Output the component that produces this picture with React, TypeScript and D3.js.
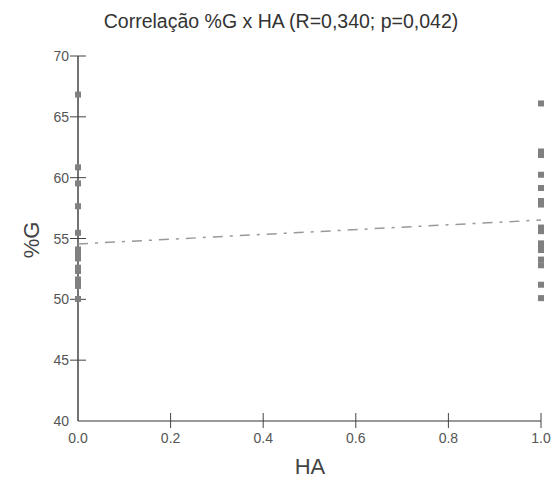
import React from "react";
import * as d3 from "d3";

const title = "Correlação %G x HA (R=0,340; p=0,042)";
const xLabel = "HA";
const yLabel = "%G";
const xTicks = [0, 0.2, 0.4, 0.6, 0.8, 1.0];
const yTicks = [40, 45, 50, 55, 60, 65, 70];
const groupZero = [66.83, 60.85, 59.53, 57.65, 55.47, 54.1, 53.8, 53.36, 52.6, 52.33, 51.63, 51.34, 51.1, 50.03];
const groupOne = [66.1, 62.15, 61.86, 60.24, 59.15, 58.08, 57.79, 55.9, 55.6, 54.6, 54.4, 54.05, 53.27, 52.8, 51.2, 50.1];
const trendX = [0, 1];
const trendY = [54.55, 56.52];

export default function App() {
  const W = 554, H = 484;
  const x = d3.scaleLinear().domain([0, 1]).range([78, 541]);
  const y = d3.scaleLinear().domain([40, 70]).range([421, 56]);
  const pts = [
    ...groupZero.map((v) => ({ x: 0, y: v })),
    ...groupOne.map((v) => ({ x: 1, y: v })),
  ];
  const line = d3.line<number>().x((_, i) => x(trendX[i])).y((d) => y(d));
  const font = "'Liberation Sans', Arial, sans-serif";
  const s = 6;
  return (
    <svg width={W} height={H} style={{ position: "absolute", left: 0, top: 0, background: "#fff" }} fontFamily={font}>
      <text x={281} y={28} textAnchor="middle" fontSize={19.5} fill="#333">{title}</text>
      {/* x axis */}
      <line x1={x(0)} x2={x(1)} y1={y(40)} y2={y(40)} stroke="#777" strokeWidth={1.5} />
      {xTicks.map((t) => (
        <g key={"x" + t}>
          {t > 0 && <line x1={x(t)} x2={x(t)} y1={y(40) - 8} y2={y(40) + 7} stroke="#444" strokeWidth={1} />}
          <text x={x(t)} y={443} textAnchor="middle" fontSize={14} fill="#555">{t.toFixed(1)}</text>
        </g>
      ))}
      {/* y axis */}
      <line x1={x(0)} x2={x(0)} y1={y(70)} y2={y(40)} stroke="#444" strokeWidth={1.5} />
      {yTicks.map((t) => (
        <g key={"y" + t}>
          {t > 40 && <line x1={x(0) - 8} x2={x(0) + 8} y1={y(t)} y2={y(t)} stroke="#444" strokeWidth={1} />}
          <text x={69} y={y(t) + 5} textAnchor="end" fontSize={14} fill="#555">{t}</text>
        </g>
      ))}
      {pts.map((p, i) => (
        <rect key={i} x={x(p.x) - s / 2} y={y(p.y) - s / 2} width={s} height={s} fill="#808080" />
      ))}
      <path d={line(trendY) || ""} fill="none" stroke="#999" strokeWidth={1.5} strokeDasharray="10,7,3,7" />
      <text x={310} y={474} textAnchor="middle" fontSize={22} fill="#444">{xLabel}</text>
      <text transform={`translate(39,240) rotate(-90)`} textAnchor="middle" fontSize={22} fill="#444">{yLabel}</text>
    </svg>
  );
}
